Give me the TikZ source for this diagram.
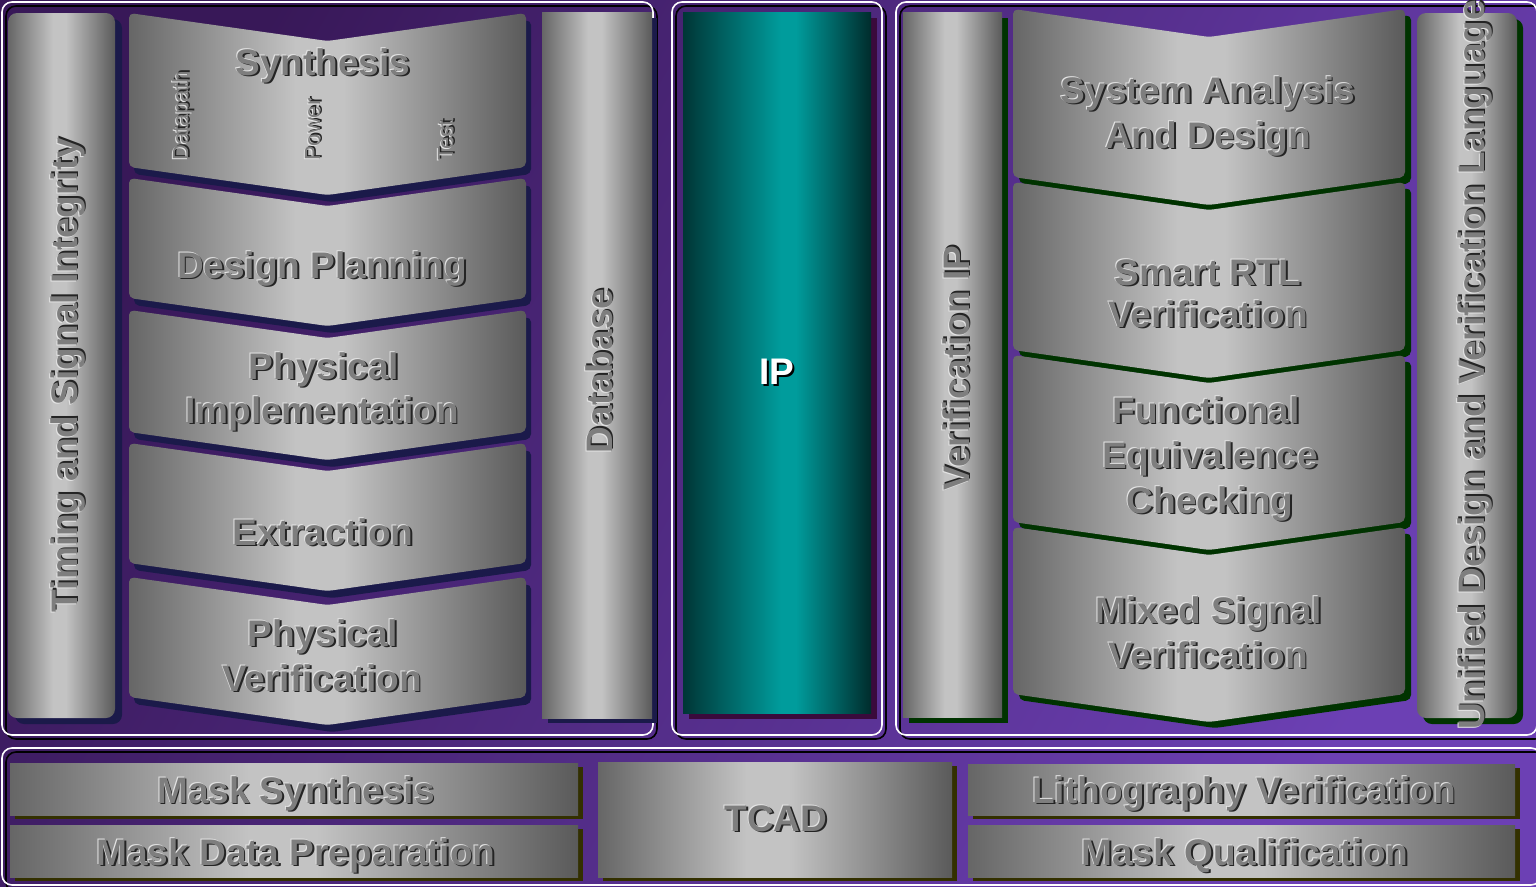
\documentclass[tikz,border=0pt]{standalone}
\usepackage{fontspec}
\setmainfont{Liberation Sans}

% palette
\definecolor{bgA}{HTML}{381858}
\definecolor{bgB}{HTML}{6C40B4}
\definecolor{mDark}{HTML}{666666}
\definecolor{mLight}{HTML}{C3C3C3}
\definecolor{mDarkR}{HTML}{5A5A5A}
\definecolor{tealD}{HTML}{003636}
\definecolor{tealL}{HTML}{009C9C}
\definecolor{tealDR}{HTML}{002C2C}
\definecolor{navy}{HTML}{1B1A4A}
\definecolor{grn}{HTML}{003300}
\definecolor{plum}{HTML}{3A0A3C}
\definecolor{olive}{HTML}{333000}
\definecolor{txtG}{HTML}{7E7E7E}
\definecolor{embD}{HTML}{242424}
\definecolor{embL}{HTML}{E4E4E4}

% brushed-metal and teal cylinder fills (path spans 25bp..75bp)
\pgfdeclarehorizontalshading{metal}{100bp}{color(0bp)=(mDark); color(25bp)=(mDark); color(46bp)=(mLight); color(52bp)=(mLight); color(75bp)=(mDarkR); color(100bp)=(mDarkR)}
\pgfdeclarehorizontalshading{tealbar}{100bp}{color(0bp)=(tealD); color(25bp)=(tealD); color(51bp)=(tealL); color(55bp)=(tealL); color(75bp)=(tealDR); color(100bp)=(tealDR)}

% embossed grey lettering
\newcommand\emb[1]{\makebox[0pt][l]{\hspace*{1.8pt}\raisebox{-1.8pt}{\color{embD}#1}}\makebox[0pt][l]{\hspace*{-1pt}\raisebox{1pt}{\color{embL}#1}}{\color{txtG}#1}}

% chevron stage: left, right, top, bottom, shadow colour, shadow shift
\newcommand\chev[6]{%
  \fill[#5, rounded corners=5pt, shift={#6}] (#1,#3) -- ({(#1+#2)/2},{#3+28}) -- (#2,#3) -- (#2,#4) -- ({(#1+#2)/2},{#4+28}) -- (#1,#4) -- cycle;
  \shade[shading=metal, rounded corners=5pt] (#1,#3) -- ({(#1+#2)/2},{#3+28}) -- (#2,#3) -- (#2,#4) -- ({(#1+#2)/2},{#4+28}) -- (#1,#4) -- cycle;
}

\tikzset{
  wline/.style={draw=white, line width=1.6pt, rounded corners=10pt},
  kline/.style={draw=black, line width=1.6pt, rounded corners=10pt},
  big/.style={font=\fontsize{37}{44}\selectfont\bfseries, inner sep=0pt, anchor=base},
  vbig/.style={big, rotate=90},
  small/.style={font=\fontsize{22}{26}\selectfont, inner sep=0pt, anchor=base west, rotate=90},
}

\begin{document}
\begin{tikzpicture}[x=1pt,y=-1pt]
\useasboundingbox (0,0) rectangle (1536,886);
\clip (0,0) rectangle (1536,886);

% backdrop
\shade[top color=bgA, bottom color=bgB, shading angle=60] (0,0) rectangle (1536,886);

% panel frames
\draw[kline] (6,6) rectangle (657,739);
\draw[wline] (2,2) rectangle (653,735);
\draw[kline] (676,6) rectangle (886,739);
\draw[wline] (672,2) rectangle (882,735);
\draw[kline] (900,6) rectangle (1545,739);
\draw[wline] (896,2) rectangle (1537,735);
\draw[kline] (6,752) rectangle (1545,892);
\draw[wline] (2,748) rectangle (1541,885);

% left panel: side columns
\fill[navy, rounded corners=9pt] (15,19) rectangle (122,724);
\shade[shading=metal, rounded corners=9pt] (8,13) rectangle (115,718);
\fill[navy] (548,18) rectangle (657,723);
\shade[shading=metal] (542,12) rectangle (652,718);

% left panel: implementation flow
\chev{129}{526}{13}{167}{navy}{(5,7)}
\chev{129}{526}{178}{298}{navy}{(5,7)}
\chev{129}{526}{310}{432}{navy}{(5,7)}
\chev{129}{526}{443}{563}{navy}{(5,7)}
\chev{129}{526}{577}{697}{navy}{(5,7)}

% IP column
\fill[plum] (689,18) rectangle (877,719);
\shade[shading=tealbar] (683,12) rectangle (871,713);

% right panel: side columns
\fill[grn] (909,18) rectangle (1008,723);
\shade[shading=metal] (903,12) rectangle (1002,717);
\fill[grn, rounded corners=9pt] (1423,19) rectangle (1523,724);
\shade[shading=metal, rounded corners=9pt] (1417,13) rectangle (1517,718);

% right panel: verification flow
\chev{1013}{1405}{9}{177}{grn}{(6,6)}
\chev{1013}{1405}{182}{350}{grn}{(6,6)}
\chev{1013}{1405}{355}{522}{grn}{(6,6)}
\chev{1013}{1405}{527}{694}{grn}{(6,6)}

% mask / process band
\fill[olive] (15,767) rectangle (583,819);
\shade[shading=metal] (10,763) rectangle (578,815);
\fill[olive] (15,829) rectangle (583,881);
\shade[shading=metal] (10,825) rectangle (578,877);
\fill[olive] (603,766) rectangle (957,881);
\shade[shading=metal] (598,762) rectangle (952,877);
\fill[olive] (973,768) rectangle (1520,819);
\shade[shading=metal] (968,764) rectangle (1515,815);
\fill[olive] (973,829) rectangle (1520,881);
\shade[shading=metal] (968,825) rectangle (1515,877);

% labels: left panel
\node[vbig] (timing) at (77,375) {\emb{Timing and Signal Integrity}};
\node[vbig] (database) at (612,371) {\emb{Database}};
\node[big] (synth) at (323,75) {\emb{Synthesis}};
\node[small] (datapath) at (188,161) {\emb{Datapath}};
\node[small] (power) at (320,161) {\emb{Power}};
\node[small] (test) at (453,161) {\emb{Test}};
\node[big] (dplan) at (322,278) {\emb{Design Planning}};
\node[big] (phys1) at (324,379) {\emb{Physical}};
\node[big] (impl) at (322,423) {\emb{Implementation}};
\node[big] (extr) at (323,545) {\emb{Extraction}};
\node[big] (phys2) at (323,646) {\emb{Physical}};
\node[big] (pver) at (322,691) {\emb{Verification}};

% labels: IP
\node[big] (ip) at (777,384) {\makebox[0pt][l]{\hspace*{2pt}\raisebox{-2pt}{\color{black}IP}}\color{white}IP};

% labels: right panel
\node[vbig] (verip) at (969,368) {\emb{Verification IP}};
\node[vbig] (udvl) at (1484,365) {\emb{Unified Design and Verification Language}};
\node[big] (sys1) at (1208,103) {\emb{System Analysis}};
\node[big] (sys2) at (1208,148) {\emb{And Design}};
\node[big] (rtl1) at (1208,285) {\emb{Smart RTL}};
\node[big] (rtl2) at (1208,327) {\emb{Verification}};
\node[big] (fec1) at (1206,423) {\emb{Functional}};
\node[big] (fec2) at (1210,468) {\emb{Equivalence}};
\node[big] (fec3) at (1210,513) {\emb{Checking}};
\node[big] (msv1) at (1209,623) {\emb{Mixed Signal}};
\node[big] (msv2) at (1208,668) {\emb{Verification}};

% labels: mask / process band
\node[big] (msyn) at (296,803) {\emb{Mask Synthesis}};
\node[big] (mdp) at (296,865) {\emb{Mask Data Preparation}};
\node[big] (tcad) at (776,831) {\emb{TCAD}};
\node[big] (litho) at (1244,803) {\emb{Lithography Verification}};
\node[big] (mq) at (1245,865) {\emb{Mask Qualification}};
\end{tikzpicture}
\end{document}
